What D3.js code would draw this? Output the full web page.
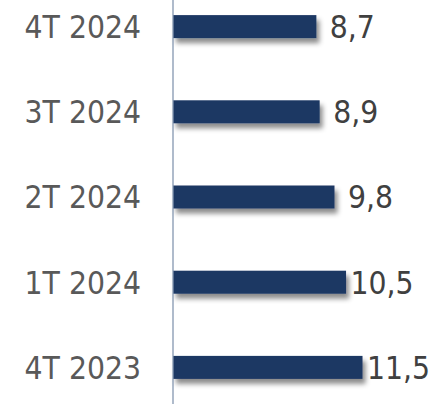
<!DOCTYPE html>
<html>
<head>
<meta charset="utf-8">
<script src="https://cdn.jsdelivr.net/npm/d3@7"></script>
<style>
html,body{margin:0;padding:0;background:#fff;}
svg{display:block;}
</style>
</head>
<body>
<script>
const categories = ["4T 2024", "3T 2024", "2T 2024", "1T 2024", "4T 2023"];
const values = [8.7, 8.9, 9.8, 10.5, 11.5];
const valueLabels = ["8,7", "8,9", "9,8", "10,5", "11,5"];

const W = 433, H = 404;
const svg = d3.select("body").append("svg").attr("width", W).attr("height", H);

const defs = svg.append("defs");
const f = defs.append("filter").attr("id", "sh").attr("x", "-10%").attr("y", "-50%").attr("width", "130%").attr("height", "250%");
f.append("feDropShadow").attr("dx", 3).attr("dy", 5).attr("stdDeviation", 2.5)
  .attr("flood-color", "#000").attr("flood-opacity", 0.45);

const x = d3.scaleLinear().domain([0, 16]).range([173, 173 + 16 * 16.48]);
const y = d3.scaleBand().domain(categories).range([-16, 410]).paddingInner(0.73).paddingOuter(0.365);

const font = "'DejaVu Sans Condensed', 'DejaVu Sans', sans-serif";
const data = categories.map((c, i) => ({c, v: values[i], l: valueLabels[i]}));

svg.append("g").selectAll("rect").data(data).join("rect")
  .attr("x", x(0))
  .attr("y", d => y(d.c))
  .attr("width", d => x(d.v) - x(0))
  .attr("height", y.bandwidth())
  .attr("fill", "#1f3864")
  .attr("filter", "url(#sh)");

// vertical axis line
svg.append("line")
  .attr("x1", x(0)).attr("x2", x(0))
  .attr("y1", 0).attr("y2", H)
  .attr("stroke", "#8497b0").attr("stroke-width", 1.3);

svg.append("g").selectAll("text").data(data).join("text")
  .attr("x", 141)
  .attr("y", d => y(d.c) + y.bandwidth() / 2)
  .attr("dy", "0.36em")
  .attr("text-anchor", "end")
  .attr("font-family", font)
  .attr("font-size", 31.5)
  .attr("fill", "#595959")
  .text(d => d.c);

svg.append("g").selectAll("text").data(data).join("text")
  .attr("x", d => x(d.v) + 36)
  .attr("y", d => y(d.c) + y.bandwidth() / 2)
  .attr("dy", "0.36em")
  .attr("text-anchor", "middle")
  .attr("font-family", font)
  .attr("font-size", 31.5)
  .attr("fill", "#404040")
  .text(d => d.l);
</script>
</body>
</html>
